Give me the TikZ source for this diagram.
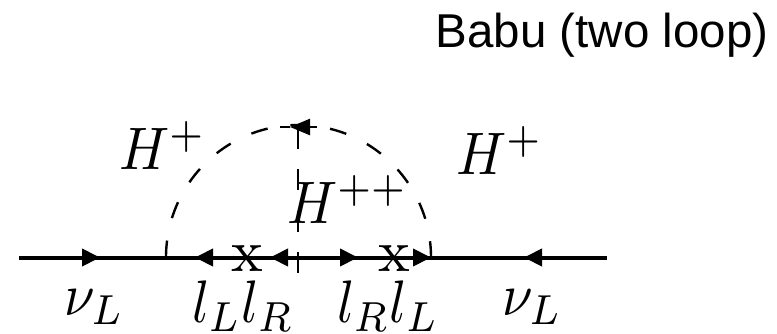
\documentclass[tikz,border=0pt]{standalone}
\usepackage{amsmath}
\usepackage{fontspec}
\setsansfont{Liberation Sans}
\usetikzlibrary{arrows.meta}
\tikzset{
  lepton/.style={black,line width=4pt},
  leptonarrow/.style={lepton,-{Triangle[length=18pt,width=17pt]}},
  higgs/.style={black,line width=2.4pt},
  label/.style={anchor=base west,inner sep=0pt,xscale=5.5,yscale=6},
}
\begin{document}
\begin{tikzpicture}[x=1pt,y=-1pt]
\useasboundingbox (0,0) rectangle (777,333);
% fermion line
\coordinate (start) at (19,257.5);
\coordinate (tipa) at (100,257.5);
\coordinate (vleft) at (166,257.5);
\coordinate (tipb) at (195,257.5);
\coordinate (tipc) at (270,257.5);
\coordinate (mid) at (298,257.5);
\coordinate (tipd) at (358,257.5);
\coordinate (vright) at (431,257.5);
\coordinate (tipe) at (524,257.5);
\coordinate (stop) at (607,257.5);
\draw[lepton] (start)--(stop);
\draw[leptonarrow] (start)--(tipa);
\draw[leptonarrow] (tipc)--(tipb);
\draw[leptonarrow] (mid)--(tipc);
\draw[leptonarrow] (mid)--(tipd);
\draw[leptonarrow] (tipd)--(vright);
\draw[leptonarrow] (stop)--(tipe);
% scalars
\coordinate (low) at (298,273);
\coordinate (high) at (298,126);
\coordinate (dasha) at (317,127);
\coordinate (tipf) at (290,127);
\coordinate (dashb) at (280,127);
\draw[higgs,dash pattern=on 17pt off 23pt] (vleft) arc[start angle=180,end angle=360,radius=132.5];
\draw[higgs,dash pattern=on 21pt off 20.5pt] (low)--(high);
\draw[higgs,-{Triangle[length=20pt,width=16pt]}] (dasha)--(tipf);
\draw[higgs] (tipf)--(dashb);
% labels
\node[label] (hleft) at (118,169) {$H^+$};
\node[label] (hright) at (455,174) {$H^+$};
\node[label] (hdouble) at (286,223) {$H^{++}$};
\node[label] (nuleft) at (63,315) {$\nu_L$};
\node[label] (leptona) at (191,322) {$l_L l_R$};
\node[label] (leptonb) at (336,322) {$l_R l_L$};
\node[label] (nuright) at (501,315) {$\nu_L$};
\node[label,anchor=base,xscale=6/5.5] (xleft) at (247,271) {x};
\node[label,anchor=base,xscale=6/5.5] (xright) at (394,271) {x};
\node[anchor=base west,inner sep=0pt,font=\sffamily\fontsize{47.5}{56}\selectfont] (title) at (435.5,47) {Babu (two loop)};
\end{tikzpicture}
\end{document}
